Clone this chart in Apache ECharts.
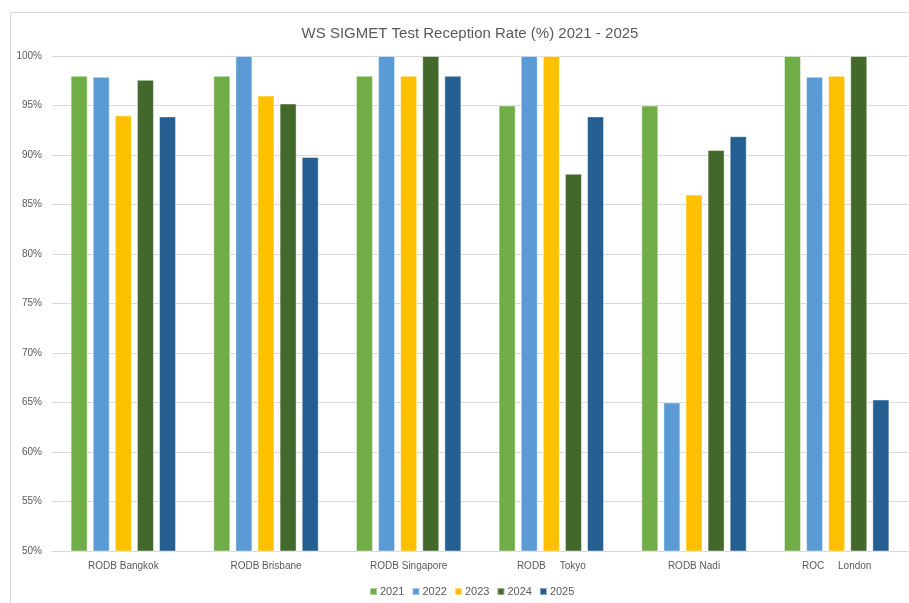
<!DOCTYPE html>
<html>
<head>
<meta charset="utf-8">
<script src="https://cdn.jsdelivr.net/npm/echarts@6/dist/echarts.min.js"></script>
<style>html,body{margin:0;padding:0;background:#fff;}#chart{width:909px;height:603px;}</style>
</head>
<body>
<div id="chart"></div>
<script>
var categories = ['RODB Bangkok', 'RODB Brisbane', 'RODB Singapore', 'RODB     Tokyo', 'RODB Nadi', 'ROC     London'];
var years = ['2021', '2022', '2023', '2024', '2025'];
var v2021 = [98, 98, 98, 95, 95, 100];
var v2022 = [97.9, 100, 100, 100, 65, 97.9];
var v2023 = [94, 96, 98, 100, 86, 98];
var v2024 = [97.6, 95.2, 100, 88.1, 90.5, 100];
var v2025 = [93.9, 89.8, 98, 93.9, 91.9, 65.3];
var yTicks = { min: 50, max: 100, interval: 5 };
var colors = ['#70AD47', '#5B9BD5', '#FFC000', '#43682B', '#255E91'];
var seriesData = [v2021, v2022, v2023, v2024, v2025];
var font = 'Liberation Sans';

var chart = echarts.init(document.getElementById('chart'), null, { renderer: 'canvas' });
chart.setOption({
  animation: false,
  backgroundColor: '#fff',
  color: colors,
  textStyle: { fontFamily: font },
  title: {
    text: 'WS SIGMET Test Reception Rate (%) 2021 - 2025',
    left: 465, top: 21, textAlign: 'center',
    textStyle: { fontFamily: font, fontSize: 15, fontWeight: 'normal', color: '#595959' }
  },
  graphic: [{
    type: 'rect', left: 8, top: 10, silent: true,
    shape: { x: 0, y: 0, width: 920, height: 620 },
    style: { fill: 'none', stroke: '#D9D9D9', lineWidth: 1 }
  }],
  legend: {
    data: years, bottom: 1, left: 364,
    itemWidth: 7, itemHeight: 7, itemGap: 7, icon: 'rect',
    textStyle: { fontFamily: font, fontSize: 11, color: '#595959', padding: [0, 0, 0, -2] }
  },
  grid: { left: 52, right: 1, top: 56, bottom: 52, containLabel: false },
  xAxis: {
    type: 'category', data: categories,
    axisLine: { lineStyle: { color: '#D9D9D9' } },
    axisTick: { show: false },
    axisLabel: { color: '#595959', fontSize: 10, margin: 10, fontFamily: font }
  },
  yAxis: {
    type: 'value', min: yTicks.min, max: yTicks.max, interval: yTicks.interval,
    axisLine: { show: false }, axisTick: { show: false },
    axisLabel: { formatter: '{value}%', color: '#595959', fontSize: 10, margin: 10, fontFamily: font },
    splitLine: { lineStyle: { color: '#D9D9D9' } }
  },
  series: years.map(function (y, i) {
    return {
      name: y, type: 'bar', data: seriesData[i],
      barWidth: 17, barGap: '30%',
      itemStyle: { color: colors[i], borderColor: 'rgba(255,255,255,0.45)', borderWidth: 1 }
    };
  })
});
</script>
</body>
</html>
